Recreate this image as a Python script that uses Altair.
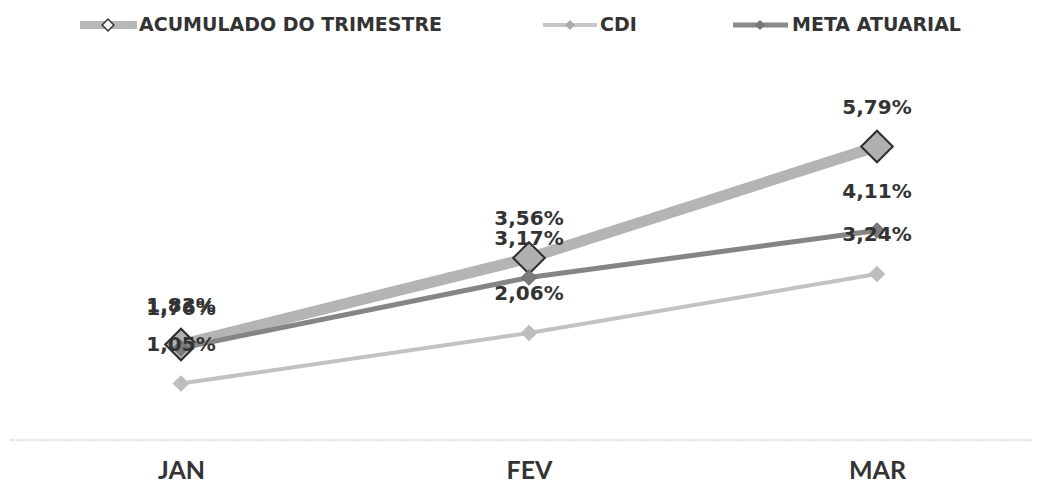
import altair as alt
import pandas as pd

# ---- data ----
months = ["JAN", "FEV", "MAR"]
series_names = ["ACUMULADO DO TRIMESTRE", "CDI", "META ATUARIAL"]
acumulado = [1.83, 3.56, 5.79]
cdi = [1.05, 2.06, 3.24]
meta = [1.76, 3.17, 4.11]


def frame(name, vals):
    return pd.DataFrame({
        "mes": months,
        "serie": name,
        "valor": vals,
        "rotulo": [f"{v:.2f}".replace(".", ",") + "%" for v in vals],
    })


df_a = frame(series_names[0], acumulado)
df_c = frame(series_names[1], cdi)
df_m = frame(series_names[2], meta)
df_all = pd.concat([df_a, df_c, df_m], ignore_index=True)

TXT = "#333333"

x = alt.X(
    "mes:O",
    sort=months,
    scale=alt.Scale(type="point", domain=months, range=[173, 869], padding=0),
    axis=alt.Axis(
        title=None, labelAngle=0, ticks=False, tickSize=0, grid=False,
        domain=False,
        labelFont="Lato", labelFontWeight="bold", labelFontSize=25,
        labelColor=TXT, labelPadding=18,
    ),
)
y = alt.Y("valor:Q", scale=alt.Scale(domain=[-0.08, 8.56], nice=False, zero=False), axis=None)

one = pd.DataFrame({"k": [0]})

# baseline spanning the whole width, as in the reference
base = alt.Chart(one).mark_rule(color="#c0c0c0", strokeWidth=1, strokeDash=[2, 1]).encode(
    x=alt.value(2), x2=alt.value(1025), y=alt.value(432))


def series_layers(df, color, width, size, fill, stroke=None, sw=0):
    line = alt.Chart(df).mark_line(color=color, strokeWidth=width).encode(x=x, y=y)
    kw = dict(shape="diamond", filled=True, size=size, fill=fill, opacity=1)
    if stroke:
        kw.update(stroke=stroke, strokeWidth=sw)
    pts = alt.Chart(df).mark_point(**kw).encode(x=x, y=y)
    return [line, pts]


layers = [base]
layers += series_layers(df_a, "#b4b4b4", 11, 1000, "#b0b0b0", "#2e2e2e", 2)
layers += series_layers(df_c, "#c2c2c2", 4, 280, "#bdbdbd")
layers += series_layers(df_m, "#858585", 5, 240, "#7b7b7b", "#666666", 1)

labels = alt.Chart(df_all).mark_text(
    dy=-39, fontSize=20, font="DejaVu Sans", fontWeight="bold",
    color=TXT, align="center", baseline="middle",
).encode(x=x, y=y, text="rotulo:N")
layers.append(labels)

# ---- custom legend (top) ----
LY = 17


def legend_item(x1, x2, xd, xt, name, lcolor, lwidth, dsize, dfill, dstroke=None, dsw=0):
    r = alt.Chart(one).mark_rule(color=lcolor, strokeWidth=lwidth).encode(
        x=alt.value(x1), x2=alt.value(x2), y=alt.value(LY))
    kw = dict(shape="diamond", filled=True, size=dsize, fill=dfill, opacity=1)
    if dstroke:
        kw.update(stroke=dstroke, strokeWidth=dsw)
    d = alt.Chart(one).mark_point(**kw).encode(x=alt.value(xd), y=alt.value(LY))
    t = alt.Chart(one).mark_text(
        align="left", baseline="middle", font="DejaVu Sans", fontWeight="bold",
        fontSize=19, color=TXT,
    ).encode(x=alt.value(xt), y=alt.value(LY), text=alt.value(name))
    return [r, d, t]


layers += legend_item(72, 129, 100, 131, series_names[0], "#b8b8b8", 8, 140, "#f4f4f4", "#333333", 1.5)
layers += legend_item(535, 589, 562, 592, series_names[1], "#c6c6c6", 4, 100, "#aaaaaa")
layers += legend_item(725, 780, 752, 784, series_names[2], "#8a8a8a", 5, 100, "#777777")

chart = alt.layer(*layers).properties(
    width=1025, height=432,
    padding={"left": 0, "top": 0, "right": 0, "bottom": 45},
    autosize=alt.AutoSizeParams(type="none"),
    background="white",
).configure_view(stroke=None)

chart.save("out.html", embed_options={"renderer": "svg", "actions": False})
